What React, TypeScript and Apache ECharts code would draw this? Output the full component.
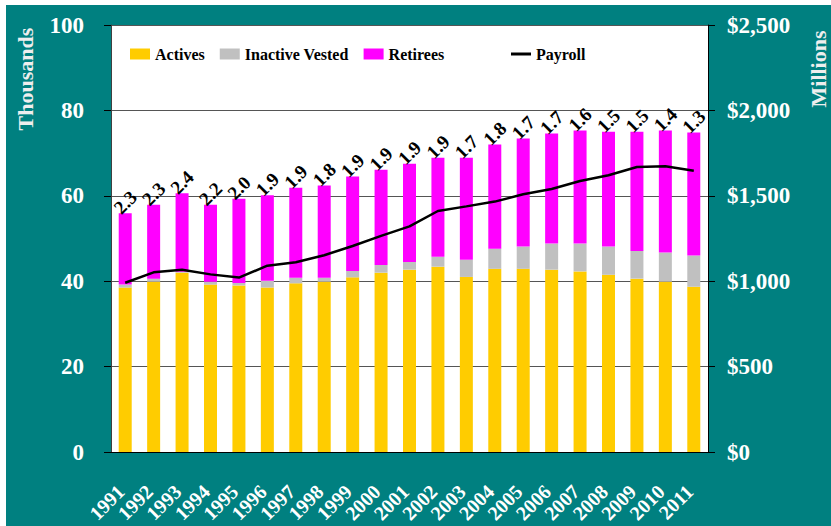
import React, { useEffect, useRef } from "react";
import * as echarts from "echarts";

const years = ["1991","1992","1993","1994","1995","1996","1997","1998","1999","2000","2001","2002","2003","2004","2005","2006","2007","2008","2009","2010","2011"];
const actives = [38.5, 39.9, 42.0, 39.2, 39.0, 38.5, 39.5, 39.9, 40.9, 42.0, 42.7, 43.4, 41.0, 42.9, 42.9, 42.7, 42.3, 41.5, 40.6, 39.9, 38.7];
const inactiveVested = [0.7, 0.7, 0.2, 0.7, 0.6, 1.6, 1.3, 0.9, 1.5, 1.8, 1.8, 2.3, 4.0, 4.7, 5.2, 6.1, 6.5, 6.6, 6.5, 6.8, 7.3];
const retirees = [16.7, 17.3, 18.4, 18.0, 19.7, 20.0, 21.1, 21.6, 22.1, 22.3, 23.0, 23.2, 23.9, 24.4, 25.3, 25.8, 26.5, 26.9, 27.9, 28.6, 28.8];
const payroll = [991, 1052, 1067, 1040, 1021, 1091, 1111, 1152, 1206, 1265, 1321, 1411, 1438, 1466, 1509, 1540, 1587, 1620, 1669, 1673, 1647];
const ratios = ["2.3","2.3","2.4","2.2","2.0","1.9","1.9","1.8","1.9","1.9","1.9","1.9","1.7","1.8","1.7","1.7","1.6","1.5","1.5","1.4","1.3"];
const leftTicks = { min: 0, max: 100, interval: 20 };
const rightTicks = { min: 0, max: 2500, interval: 500 };

const FONT = "'Liberation Serif', 'Times New Roman', serif";

export default function App() {
  const ref = useRef<HTMLDivElement>(null);
  useEffect(() => {
    if (!ref.current) return;
    const chart = echarts.init(ref.current, null, { renderer: "svg" });
    chart.setOption({
      animation: false,
      backgroundColor: "#008080",
      textStyle: { fontFamily: FONT },
      grid: {
        left: 105,
        top: 20,
        width: 597,
        height: 427,
        show: true,
        backgroundColor: "#ffffff",
        borderWidth: 0,
      },
      legend: [
        {
          data: ["Actives", "Inactive Vested", "Retirees"],
          left: 119,
          top: 36,
          itemWidth: 20,
          itemHeight: 11,
          itemGap: 15,
          icon: "rect",
          textStyle: { fontFamily: FONT, fontWeight: "bold", fontSize: 16, color: "#000" },
        },
        {
          data: [{ name: "Payroll", icon: "path://M0 0H20V3H0Z" }],
          left: 500,
          top: 36,
          itemWidth: 20,
          itemHeight: 3,
          textStyle: { fontFamily: FONT, fontWeight: "bold", fontSize: 16, color: "#000" },
        },
      ],
      graphic: [
        {
          type: "text",
          x: 19,
          y: 74,
          rotation: Math.PI / 2,
          style: {
            text: "Thousands",
            fill: "#eeeeee",
            font: `bold 22px ${FONT}`,
            align: "center",
            verticalAlign: "middle",
          },
        },
        {
          type: "text",
          x: 812,
          y: 64,
          rotation: Math.PI / 2,
          style: {
            text: "Millions",
            fill: "#eeeeee",
            font: `bold 22px ${FONT}`,
            align: "center",
            verticalAlign: "middle",
          },
        },
      ],
      xAxis: {
        type: "category",
        data: years,
        axisLine: { lineStyle: { color: "#000", width: 1 } },
        axisTick: { show: false },
        axisLabel: {
          rotate: 45,
          interval: 0,
          margin: 32,
          padding: [0, 6, 0, 0],
          color: "#fff",
          fontFamily: FONT,
          fontWeight: "bold",
          fontSize: 20,
        },
      },
      yAxis: [
        {
          type: "value",
          ...leftTicks,
          axisLine: { show: true, lineStyle: { color: "#404040" } },
          axisTick: { show: true, length: 7, lineStyle: { color: "#000" } },
          axisLabel: { color: "#fff", fontFamily: FONT, fontWeight: "bold", fontSize: 23, margin: 27 },
          splitLine: { show: true, lineStyle: { color: "#555", width: 1 } },
        },
        {
          type: "value",
          position: "right",
          ...rightTicks,
          axisLine: { show: true, lineStyle: { color: "#000" } },
          axisTick: { show: true, length: 7, lineStyle: { color: "#000" } },
          axisLabel: {
            color: "#fff",
            fontFamily: FONT,
            fontWeight: "bold",
            fontSize: 23,
            margin: 19,
            formatter: (v: number) => "$" + v.toLocaleString("en-US"),
          },
          splitLine: { show: false },
        },
      ],
      series: [
        {
          name: "Actives",
          type: "bar",
          stack: "p",
          barWidth: 13,
          data: actives,
          itemStyle: { color: "#FFCC00" },
        },
        {
          name: "Inactive Vested",
          type: "bar",
          stack: "p",
          barWidth: 13,
          data: inactiveVested,
          itemStyle: { color: "#C0C0C0" },
        },
        {
          name: "Retirees",
          type: "bar",
          stack: "p",
          barWidth: 13,
          data: retirees,
          itemStyle: { color: "#FF00FF" },
          label: {
            show: true,
            position: "top",
            distance: 11,
            rotate: 45,
            align: "center",
            verticalAlign: "middle",
            color: "#000",
            fontFamily: FONT,
            fontWeight: "bold",
            fontSize: 19,
            formatter: (p: any) => ratios[p.dataIndex],
          },
        },
        {
          name: "Payroll",
          type: "line",
          yAxisIndex: 1,
          data: payroll,
          symbol: "none",
          showSymbol: false,
          lineStyle: { color: "#000", width: 2.5 },
          itemStyle: { color: "#000" },
          z: 5,
        },
      ],
    });
    return () => chart.dispose();
  }, []);
  return (
    <div style={{ position: "fixed", left: 0, top: 0, width: 831, height: 526, background: "#fff" }}>
      <div ref={ref} style={{ position: "absolute", left: 6, top: 5, width: 825, height: 521 }} />
    </div>
  );
}
